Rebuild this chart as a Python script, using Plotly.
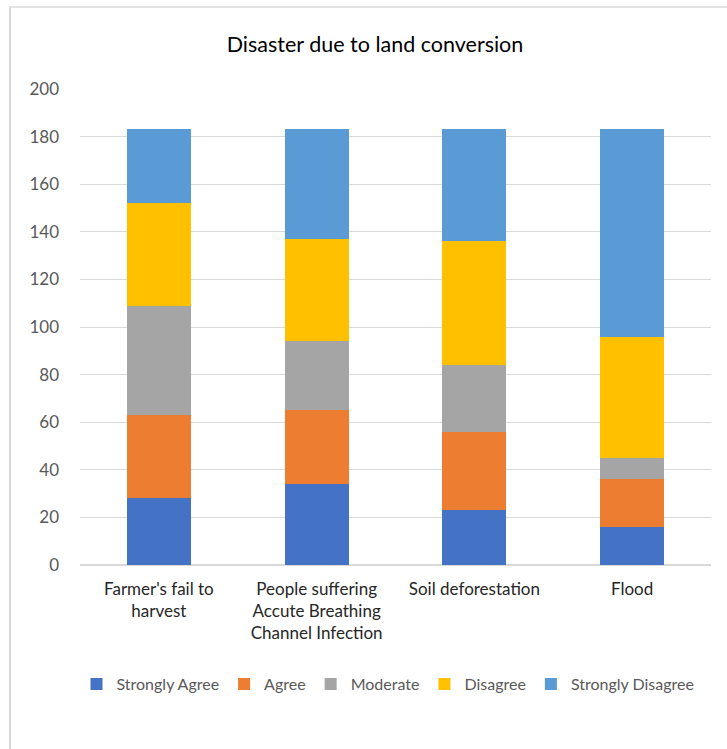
import plotly.graph_objects as go

categories = ["Farmer's fail to<br>harvest",
              "People suffering<br>Accute Breathing<br>Channel Infection",
              "Soil deforestation",
              "Flood"]
strongly_agree = [28, 34, 23, 16]
agree = [35, 31, 33, 20]
moderate = [46, 29, 28, 9]
disagree = [43, 43, 52, 51]
strongly_disagree = [31, 46, 47, 87]

series = [
    ("Strongly Agree", strongly_agree, "#4472C4"),
    ("Agree", agree, "#ED7D31"),
    ("Moderate", moderate, "#A5A5A5"),
    ("Disagree", disagree, "#FFC000"),
    ("Strongly Disagree", strongly_disagree, "#5B9BD5"),
]

FONT = "Lato, 'Open Sans', sans-serif"

L, R, T, B = 80, 711, 89, 565
PW, PH = R - L, B - T


def px(x):
    return (x - L) / PW


def py(y):
    return (B - y) / PH


fig = go.Figure()
for name, vals, col in series:
    fig.add_trace(go.Bar(x=categories, y=vals, name=name,
                         marker=dict(color=col, line=dict(width=0))))

fig.update_layout(
    barmode="stack",
    bargap=0.595,
    width=727, height=749,
    margin=dict(l=L, r=727 - R, t=T, b=749 - B, autoexpand=False),
    paper_bgcolor="white", plot_bgcolor="white",
    font=dict(family=FONT, color="#595959", size=16),
    title=dict(text="Disaster due to land conversion", x=375 / 727, xanchor="center",
               y=1 - 44 / 749, yanchor="middle", xref="container", yref="container",
               font=dict(family=FONT, size=21.5, color="#000000")),
    legend=dict(orientation="h", x=px(388), xanchor="center", y=py(684), yanchor="middle",
                font=dict(family=FONT, size=16, color="#595959"),
                traceorder="normal"),
    shapes=[
        dict(type="line", xref="paper", yref="paper",
             x0=px(10), x1=px(10), y0=py(749), y1=py(7),
             line=dict(color="#D9D9D9", width=2)),
        dict(type="line", xref="paper", yref="paper",
             x0=px(9), x1=px(727), y0=py(7), y1=py(7),
             line=dict(color="#D9D9D9", width=1.5)),
    ],
)
fig.update_yaxes(range=[0, 200], dtick=20, showgrid=True, gridcolor="#D9D9D9",
                 gridwidth=1, zeroline=True, zerolinecolor="#D9D9D9",
                 tickfont=dict(family=FONT, size=17, color="#595959"),
                 ticks="", showline=False, ticklabelstandoff=20)
fig.update_xaxes(tickfont=dict(family=FONT, size=17, color="#262626"),
                 showline=False, ticks="", ticklabelstandoff=12)

fig.write_html("out.html")
